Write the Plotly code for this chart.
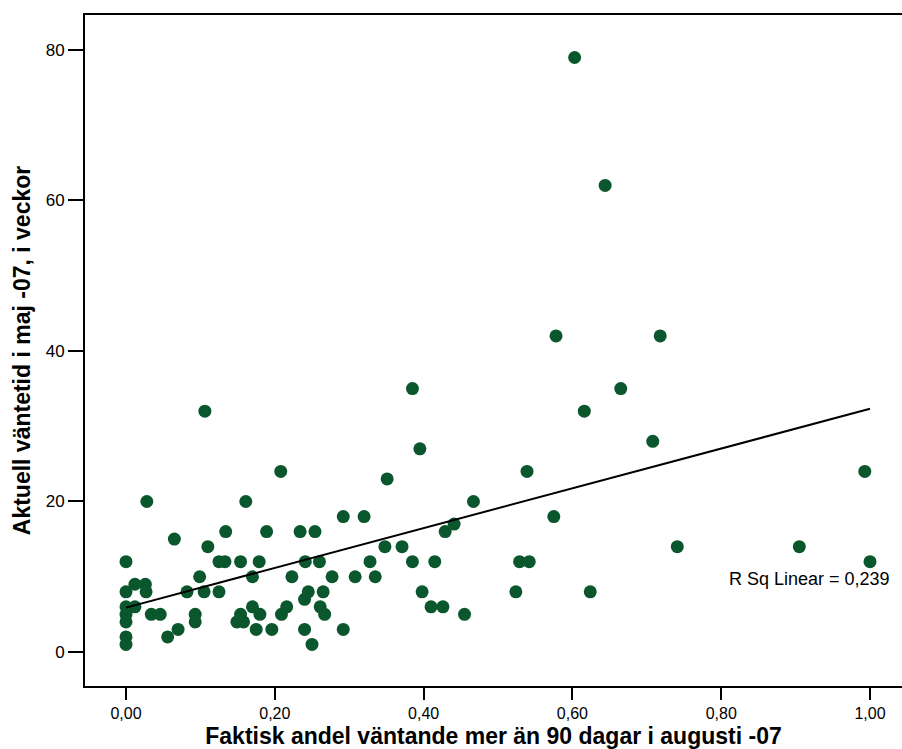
import numpy as np
import plotly.graph_objects as go

# Share of patients waiting more than 90 days (Aug -07) per clinic
andel_90_dagar = [
    0.000, 0.000, 0.000, 0.000, 0.000, 0.000, 0.000, 0.012, 0.012, 0.026,
    0.027, 0.028, 0.034, 0.046, 0.056, 0.065, 0.070, 0.082, 0.093, 0.093,
    0.099, 0.105, 0.106, 0.110, 0.125, 0.133, 0.125, 0.134, 0.149, 0.154,
    0.158, 0.154, 0.161, 0.170, 0.170, 0.175, 0.179, 0.180, 0.189, 0.196,
    0.208, 0.209, 0.216, 0.223, 0.234, 0.240, 0.240, 0.241, 0.245, 0.250,
    0.254, 0.260, 0.261, 0.265, 0.267, 0.277, 0.292, 0.292, 0.308, 0.320,
    0.328, 0.335, 0.348, 0.351, 0.371, 0.385, 0.385, 0.395, 0.398, 0.410,
    0.415, 0.426, 0.429, 0.441, 0.455, 0.467, 0.524, 0.529, 0.542, 0.539,
    0.575, 0.578, 0.603, 0.616, 0.624, 0.644, 0.665, 0.708, 0.718, 0.741,
    0.905, 0.993, 1.000,
]

# Current waiting time in weeks (May -07) for the same clinics
vantetid_veckor = [
    12, 8, 6, 5, 4, 2, 1, 9, 6, 9,
    8, 20, 5, 5, 2, 15, 3, 8, 5, 4,
    10, 8, 32, 14, 12, 12, 8, 16, 4, 5,
    4, 12, 20, 10, 6, 3, 12, 5, 16, 3,
    24, 5, 6, 10, 16, 7, 3, 12, 8, 1,
    16, 12, 6, 8, 5, 10, 18, 3, 10, 18,
    12, 10, 14, 23, 14, 35, 12, 27, 8, 6,
    12, 6, 16, 17, 5, 20, 8, 12, 12, 24,
    18, 42, 79, 32, 8, 62, 35, 28, 42, 14,
    14, 24, 12,
]

x_ticks = [0.0, 0.2, 0.4, 0.6, 0.8, 1.0]
y_ticks = [0, 20, 40, 60, 80]
r_sq_text = "R Sq Linear = 0,239"

x = np.array(andel_90_dagar)
y = np.array(vantetid_veckor, dtype=float)

# Ordinary least squares fit line over the observed x range
slope, intercept = np.polyfit(x, y, 1)
fit_x = np.array([x.min(), x.max()])
fit_y = intercept + slope * fit_x

point_color = "#0b572d"
font_family = "Liberation Sans, Arial, sans-serif"

fig = go.Figure()
fig.add_trace(go.Scatter(
    x=x, y=y, mode="markers",
    marker=dict(symbol="circle", size=13, color=point_color, line=dict(width=0)),
    hoverinfo="x+y",
))
fig.add_trace(go.Scatter(
    x=fit_x, y=fit_y, mode="lines",
    line=dict(color="black", width=2),
    hoverinfo="skip",
))

fig.add_annotation(
    x=0.918, y=9.7, xref="x", yref="y",
    text=r_sq_text, showarrow=False,
    font=dict(family=font_family, size=18, color="black"),
)

fig.update_layout(
    width=902, height=749,
    margin=dict(l=85, r=0, t=15, b=63),
    paper_bgcolor="white", plot_bgcolor="white",
    showlegend=False,
    separators=", ",
    font=dict(family=font_family, color="black"),
)

fig.update_xaxes(
    range=[-0.0551, 1.043],
    tickvals=x_ticks, tickformat=".2f",
    ticks="outside", ticklen=12, tickwidth=2, tickcolor="black",
    tickfont=dict(size=16, family=font_family),
    showline=True, linewidth=2, linecolor="black", mirror=True,
    showgrid=False, zeroline=False,
    title=dict(
        text="Faktisk andel väntande mer än 90 dagar i augusti -07",
        font=dict(size=23, family=font_family, weight="bold"),
        standoff=9,
    ),
)
fig.update_yaxes(
    range=[-4.52, 84.65],
    tickvals=y_ticks, tickformat="d",
    ticks="outside", ticklen=15, tickwidth=2, tickcolor="black",
    tickfont=dict(size=17, family=font_family),
    showline=True, linewidth=2, linecolor="black", mirror=False,
    showgrid=False, zeroline=False,
    title=dict(
        text="Aktuell väntetid i maj -07, i veckor",
        font=dict(size=23, family=font_family, weight="bold"),
        standoff=9,
    ),
)

fig.write_html("out.html")
